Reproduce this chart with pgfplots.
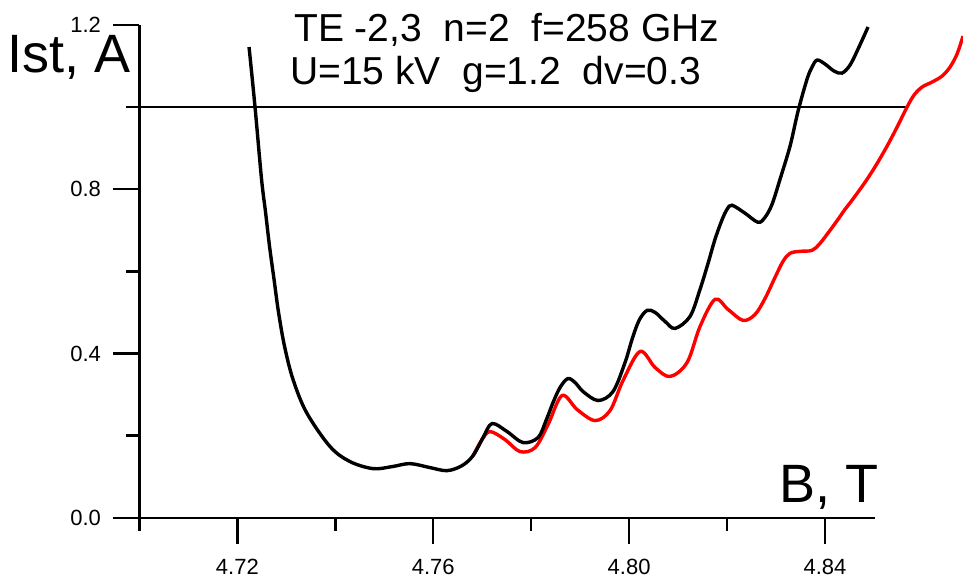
\documentclass[border=0pt]{standalone}
\usepackage{fontspec}
\setmainfont{Liberation Sans}
\usepackage{pgfplots}
\pgfplotsset{compat=1.18}
\begin{document}
\begin{tikzpicture}
\begin{axis}[
  at={(0,0)}, anchor=south west,
  scale only axis, width=735.6pt, height=492.7pt,
  xmin=4.7, xmax=4.8502, ymin=0, ymax=1.2,
  clip=false,
  /pgf/number format/assume math mode=true,
  axis lines=left, axis line style={-, line width=2.4pt},
  tick align=outside,
  major tick length=26pt, minor tick length=13pt,
  every tick/.style={black, line width=2.4pt},
  xtick={4.72,4.76,4.80,4.84}, minor xtick={4.70,4.74,4.78,4.82},
  ytick={0,0.4,0.8,1.2}, minor ytick={0.2,0.6,1.0},
  xticklabel={\hbox{\fontsize{22}{22}\selectfont\pgfmathprintnumber[fixed,fixed zerofill,precision=2,assume math mode=true]{\tick}}},
  yticklabel={\hbox{\fontsize{22}{22}\selectfont\pgfmathprintnumber[fixed,fixed zerofill,precision=1,assume math mode=true]{\tick}}},
  xticklabel style={yshift=-12pt},
  yticklabel style={xshift=-9pt},
]
\addplot[black, line width=1.8pt] coordinates {(4.70,1.0) (4.85674,1.0)};
\addplot[red, line width=3.4pt, smooth, tension=0.55] coordinates {
(4.76813,0.1512) (4.76996,0.1902) (4.77160,0.2098) (4.77466,0.1902) (4.77772,0.1610)
(4.78079,0.1707) (4.78344,0.2268) (4.78630,0.2976) (4.78938,0.2634) (4.79304,0.2366)
(4.79610,0.2610) (4.79875,0.3341) (4.80223,0.4049) (4.80529,0.3659) (4.80836,0.3439)
(4.81183,0.3780) (4.81448,0.4659) (4.81754,0.5317) (4.82019,0.5073) (4.82326,0.4805)
(4.82571,0.4951) (4.82775,0.5341) (4.82979,0.5854) (4.83142,0.6244) (4.83285,0.6439)
(4.83490,0.6488) (4.83735,0.6512) (4.83898,0.6683) (4.84102,0.7000) (4.84266,0.7268)
(4.84408,0.7512) (4.84551,0.7732) (4.84817,0.8171) (4.85041,0.8585) (4.85266,0.9049)
(4.85470,0.9512) (4.85674,1.0000) (4.85817,1.0293) (4.85980,1.0488) (4.86185,1.0610)
(4.86389,1.0756) (4.86552,1.0976) (4.86695,1.1293) (4.86818,1.1732)};
\addplot[black, line width=3.4pt, smooth, tension=0.55] coordinates {
(4.72239,1.1463) (4.72361,1.0000) (4.72494,0.8244) (4.72576,0.7439) (4.72657,0.6610)
(4.72749,0.5805) (4.72841,0.5000) (4.72964,0.4171) (4.73137,0.3366) (4.73413,0.2561)
(4.73893,0.1732) (4.74301,0.1366) (4.74771,0.1195)
(4.75159,0.1244) (4.75526,0.1317) (4.75935,0.1220) (4.76282,0.1146) (4.76588,0.1268)
(4.76813,0.1512) (4.77017,0.1951) (4.77201,0.2293) (4.77507,0.2098) (4.77834,0.1829)
(4.78140,0.1951) (4.78303,0.2366) (4.78446,0.2805) (4.78589,0.3171) (4.78752,0.3390)
(4.78916,0.3268) (4.79059,0.3073) (4.79365,0.2854) (4.79671,0.3073) (4.79916,0.3780)
(4.80059,0.4341) (4.80202,0.4805) (4.80366,0.5049) (4.80529,0.5000) (4.80733,0.4780)
(4.80937,0.4610) (4.81243,0.4902) (4.81447,0.5561) (4.81611,0.6195) (4.81753,0.6780)
(4.81897,0.7256) (4.82000,0.7512) (4.82101,0.7610) (4.82367,0.7415) (4.82632,0.7195)
(4.82775,0.7317) (4.82918,0.7634) (4.83081,0.8244) (4.83285,0.9049) (4.83449,0.9902)
(4.83633,1.0683) (4.83735,1.0976) (4.83837,1.1146) (4.84000,1.1049) (4.84184,1.0878)
(4.84347,1.0829) (4.84510,1.1024) (4.84674,1.1415) (4.84878,1.1951)};
\end{axis}
\node[anchor=base west, inner sep=0pt, font=\fontsize{54}{54}\selectfont] at (-131.7pt,444.7pt) {Ist, A};
\node[anchor=base west, inner sep=0pt, font=\fontsize{39}{39}\selectfont] at (154.6pt,476pt) {TE -2,3\ \ n=2\ \ f=258 GHz};
\node[anchor=base west, inner sep=0pt, font=\fontsize{39}{39}\selectfont] at (150.6pt,432.7pt) {U=15 kV\ \ g=1.2\ \ dv=0.3};
\node[anchor=base west, inner sep=0pt, font=\fontsize{54}{54}\selectfont] at (639.6pt,15.7pt) {B, T};
\pgfresetboundingbox
\path[use as bounding box] (-139.4pt,-63.3pt) rectangle (823.6pt,517.7pt);
\end{tikzpicture}
\end{document}
